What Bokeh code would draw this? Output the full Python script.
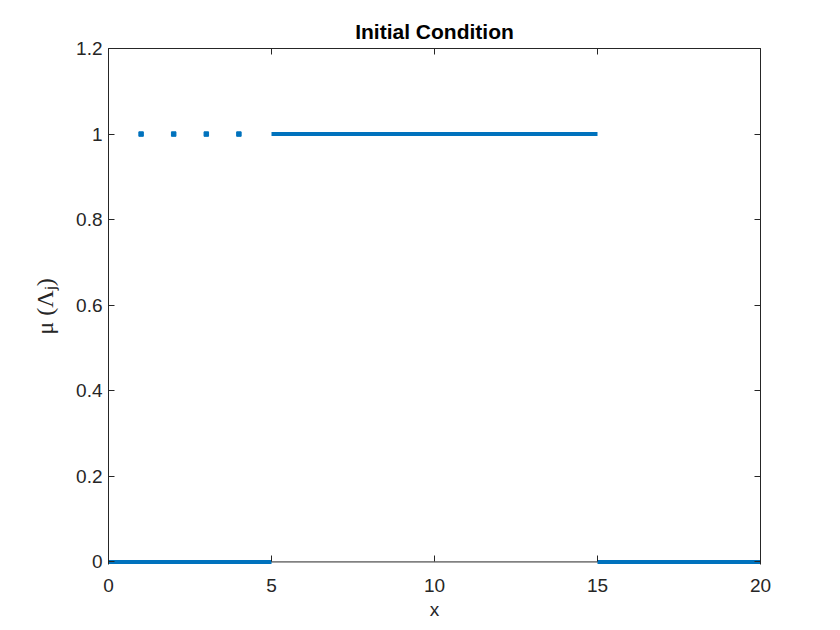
from bokeh.plotting import figure
from bokeh.models import Range1d, LinearAxis, FixedTicker, Span
from bokeh.embed import file_html
from bokeh.resources import INLINE

# Data
seg_x0 = [0, 5, 15]
seg_x1 = [5, 15, 20]
seg_y = [0, 1, 0]
dot_x = [1, 2, 3, 4]
dot_y = [1, 1, 1, 1]
x_ticks = [0, 5, 10, 15, 20]
y_ticks = [0, 0.2, 0.4, 0.6, 0.8, 1.0, 1.2]

BLUE = "#0072BD"
AX = "#262626"
FONT = "Liberation Sans"

# small padding below 0 so the thick line at y=0 is not clipped by the frame
p = figure(width=832, height=622, output_backend="svg", toolbar_location=None,
           x_range=Range1d(0, 20), y_range=Range1d(-0.006, 1.2),
           min_border_left=108, min_border_right=72, min_border_top=48, min_border_bottom=58,
           title="Initial Condition")
p.title.align = "center"
p.title.text_font = FONT
p.title.text_font_size = "21px"
p.title.text_font_style = "bold"
p.title.text_color = "black"
p.title.standoff = 11

p.xgrid.visible = False
p.ygrid.visible = False
p.outline_line_color = None
p.background_fill_color = "white"
p.border_fill_color = "white"

# bottom box edge at y = 0
p.add_layout(Span(location=0, dimension="width", line_color=AX, line_width=1, level="underlay"))

p.segment(x0=seg_x0, y0=seg_y, x1=seg_x1, y1=seg_y, line_color=BLUE, line_width=4)
p.scatter(x=dot_x, y=dot_y, marker="square", size=4.5, fill_color=BLUE, line_color=BLUE)

for ax in (p.xaxis[0], p.yaxis[0]):
    ax.axis_line_color = AX
    ax.major_tick_line_color = AX
    ax.major_tick_in = 6
    ax.major_tick_out = 0
    ax.minor_tick_line_color = None
    ax.minor_tick_in = 0
    ax.minor_tick_out = 0
    ax.major_label_text_font = FONT
    ax.major_label_text_font_size = "19px"
    ax.major_label_text_color = AX
    ax.axis_label_text_color = AX
    ax.axis_label_text_font_style = "normal"

p.xaxis.axis_line_color = None
p.xaxis.major_tick_out = -3
p.xaxis.major_tick_in = 9
p.xaxis.ticker = FixedTicker(ticks=x_ticks)
p.yaxis.ticker = FixedTicker(ticks=y_ticks)
p.xaxis.major_label_standoff = 14
p.yaxis.major_label_standoff = 6
p.xaxis.axis_label = "x"
p.xaxis.axis_label_text_font = FONT
p.xaxis.axis_label_text_font_size = "19px"
p.xaxis.axis_label_standoff = 4
p.yaxis.axis_label = "μ (Λⱼ)"
p.yaxis.axis_label_text_font = "Liberation Serif"
p.yaxis.axis_label_text_font_size = "24px"
p.yaxis.axis_label_standoff = 15

for loc, ticks in (("right", y_ticks), ("above", x_ticks)):
    a = LinearAxis(ticker=FixedTicker(ticks=ticks))
    a.axis_line_color = AX
    a.major_tick_line_color = AX
    a.major_tick_in = 6
    a.major_tick_out = 0
    a.minor_tick_line_color = None
    a.minor_tick_in = 0
    a.minor_tick_out = 0
    a.major_label_overrides = {t: "" for t in ticks}
    a.major_label_standoff = 0
    p.add_layout(a, loc)

open("out.html", "w").write(file_html(p, INLINE))
